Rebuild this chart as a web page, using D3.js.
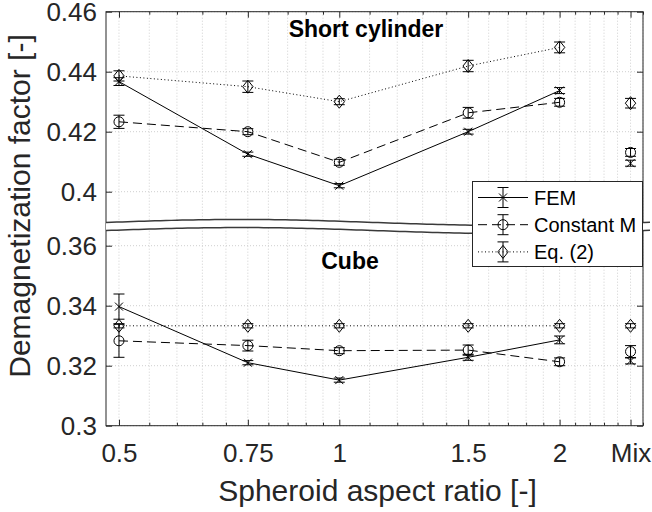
<!DOCTYPE html>
<html><head><meta charset="utf-8">
<script src="https://cdn.jsdelivr.net/npm/d3@7"></script>
<style>
body{margin:0;background:#fff}
text{font-family:"Liberation Sans",Arial,Helvetica,sans-serif}
</style>
</head><body>
<svg id="c" width="652" height="512"></svg>
<script>
// ---------- data ----------
const categories = ["0.5","0.75","1","1.5","2","Mix"];
const xValues = [0.5, 0.75, 1, 1.5, 2, 2.5];
const xMinorTicks = [0.55,0.6,0.65,0.7,0.8,0.85,0.9,0.95,1.1,1.2,1.3,1.4,1.6,1.7,1.8,1.9,2.1,2.2,2.3,2.4,2.6];

// Short cylinder (upper panel)
const cylFEM      = [0.4367, 0.4125, 0.4020, 0.4200, 0.4337, 0.4095];
const cylFEMErr   = [0.0013, 0.0007, 0.0007, 0.0008, 0.0010, 0.0010];
const cylConst    = [0.4233, 0.4200, 0.4098, 0.4263, 0.4298, 0.4131];
const cylConstErr = [0.0022, 0.0010, 0.0010, 0.0018, 0.0013, 0.0013];
const cylEq       = [0.4386, 0.4350, 0.4300, 0.4419, 0.4481, 0.4295];
const cylEqErr    = [0.0017, 0.0019, 0.0010, 0.0019, 0.0018, 0.0016];

// Cube (lower panel)
const cubeFEM      = [0.3397, 0.3210, 0.3152, 0.3228, 0.3286, 0.3216];
const cubeFEMErr   = [0.0042, 0.0007, 0.0007, 0.0010, 0.0013, 0.0010];
const cubeConst    = [0.3283, 0.3267, 0.3250, 0.3252, 0.3213, 0.3247];
const cubeConstErr = [0.0055, 0.0018, 0.0010, 0.0017, 0.0013, 0.0020];
const cubeEq       = [0.3333, 0.3333, 0.3333, 0.3333, 0.3333, 0.3333];
const cubeEqErr    = [0.0007, 0.0007, 0.0007, 0.0007, 0.0007, 0.0007];

const yTicksLower = [0.30, 0.32, 0.34, 0.36];
const yTicksUpper = [0.40, 0.42, 0.44, 0.46];
const seriesNames = ["FEM", "Constant M", "Eq. (2)"];

// ---------- layout ----------
const L = 106, R = 643, T = 11.7, B = 425.7;
const gap = 0.022;          // value removed by the axis break
const breakAt = 0.37;       // values above are shifted down by gap
const svg = d3.select("#c");

const x = d3.scaleLog().domain([0.48, 2.6]).range([L, R]);
const yT = d3.scaleLinear().domain([0.30, 0.46 - gap]).range([B, T]);
const y = v => yT(v > breakAt ? v - gap : v);

const axisColor = "#262626";
const fmt = v => String(+v.toFixed(2));

// ---------- grid ----------
const grid = svg.append("g").attr("stroke", "#cfcfcf").attr("stroke-width", 1).attr("stroke-dasharray", "1,2");
xValues.concat(xMinorTicks).forEach(v => {
  grid.append("line").attr("x1", x(v)).attr("x2", x(v)).attr("y1", T).attr("y2", B);
});
yTicksLower.concat(yTicksUpper).forEach(v => {
  grid.append("line").attr("x1", L).attr("x2", R).attr("y1", y(v)).attr("y2", y(v));
});

// ---------- axes ----------
const yTickT = yTicksLower.concat(yTicksUpper.map(v => v - gap));
function styleAxis(g){
  g.selectAll("path,line").attr("stroke", axisColor);
  g.selectAll("text").attr("fill", axisColor).attr("font-size", 26);
}
svg.append("g").attr("transform", `translate(${L},0)`)
  .call(d3.axisLeft(yT).tickValues(yTickT).tickSizeInner(-6).tickSizeOuter(0).tickPadding(9)
        .tickFormat(t => fmt(t > breakAt - 0.01 ? t + gap : t)))
  .call(styleAxis).call(g => g.select(".domain").remove());
svg.append("g").attr("transform", `translate(${R},0)`)
  .call(d3.axisRight(yT).tickValues(yTickT).tickSizeInner(-6).tickSizeOuter(0).tickFormat(""))
  .call(styleAxis).call(g => g.select(".domain").remove());
svg.append("g").attr("transform", `translate(0,${B})`)
  .call(d3.axisBottom(x).tickValues(xValues).tickSizeInner(-6).tickSizeOuter(0).tickPadding(18)
        .tickFormat((d, i) => categories[i]))
  .call(styleAxis).call(g => g.select(".domain").remove());
svg.append("g").attr("transform", `translate(0,${B})`)
  .call(d3.axisBottom(x).tickValues(xMinorTicks).tickSizeInner(-3).tickSizeOuter(0).tickFormat(""))
  .call(styleAxis).call(g => g.select(".domain").remove());
svg.append("g").attr("transform", `translate(0,${T})`)
  .call(d3.axisTop(x).tickValues(xValues).tickSizeInner(-6).tickSizeOuter(0).tickFormat(""))
  .call(styleAxis).call(g => g.select(".domain").remove());
svg.append("g").attr("transform", `translate(0,${T})`)
  .call(d3.axisTop(x).tickValues(xMinorTicks).tickSizeInner(-3).tickSizeOuter(0).tickFormat(""))
  .call(styleAxis).call(g => g.select(".domain").remove());
svg.append("rect").attr("x", L).attr("y", T).attr("width", R - L).attr("height", B - T)
  .attr("fill", "none").attr("stroke", axisColor).attr("stroke-width", 1);

// ---------- axis break band ----------
const breakCenter = 0.3664, breakHalf = 0.00135, breakAmp = 0.001;
const bx = d3.range(0, 101).map(i => L + i / 100 * (650 - L));
const wave = px => breakAmp * Math.sin(2 * Math.PI * (px - L) / (R - L));
const band = d3.area().x(d => d)
  .y0(d => yT(breakCenter - breakHalf + wave(d)))
  .y1(d => yT(breakCenter + breakHalf + wave(d)));
svg.append("path").datum(bx).attr("d", band).attr("fill", "#fff");
[1, -1].forEach(s => {
  svg.append("path").datum(bx)
    .attr("d", d3.line().x(d => d).y(d => yT(breakCenter + s * breakHalf + wave(d))))
    .attr("fill", "none").attr("stroke", "#3a3a3a").attr("stroke-width", 1.5);
});

// ---------- series ----------
const markers = {
  x: "M-4,-4L4,4M-4,4L4,-4",
  o: "M5,0A5,5 0 1 1 -5,0A5,5 0 1 1 5,0Z",
  d: "M0,-6.5L5.2,0L0,6.5L-5.2,0Z"
};
const styles = [
  {dash: null, marker: "x"},
  {dash: "9,5", marker: "o"},
  {dash: "1,2.5", marker: "d"}
];
const panels = [
  [[cylFEM, cylFEMErr], [cylConst, cylConstErr], [cylEq, cylEqErr]],
  [[cubeFEM, cubeFEMErr], [cubeConst, cubeConstErr], [cubeEq, cubeEqErr]]
];
const dataG = svg.append("g");
panels.forEach(panel => {
  panel.forEach(([vals, errs], si) => {
    const st = styles[si];
    const pts = vals.map((v, i) => ({x: xValues[i], v, e: errs[i]}));
    dataG.append("path").datum(pts.slice(0, 5))
      .attr("d", d3.line().x(d => x(d.x)).y(d => y(d.v)))
      .attr("fill", "none").attr("stroke", "#000").attr("stroke-width", 1)
      .attr("stroke-dasharray", st.dash);
    pts.forEach(p => {
      const cx = x(p.x), y1 = y(p.v + p.e), y2 = y(p.v - p.e);
      dataG.append("path")
        .attr("d", `M${cx},${y1}L${cx},${y2}M${cx-5.5},${y1}L${cx+5.5},${y1}M${cx-5.5},${y2}L${cx+5.5},${y2}`)
        .attr("stroke", "#000").attr("stroke-width", 1).attr("fill", "none");
      dataG.append("path").attr("d", markers[st.marker])
        .attr("transform", `translate(${cx},${y(p.v)})`)
        .attr("fill", "none").attr("stroke", "#000").attr("stroke-width", 1);
    });
  });
});

// ---------- titles ----------
svg.append("text").attr("x", 366).attr("y", 36.5).attr("text-anchor", "middle")
  .attr("font-size", 23).attr("font-weight", "bold").attr("fill", "#000").text("Short cylinder");
svg.append("text").attr("x", 350).attr("y", 269).attr("text-anchor", "middle")
  .attr("font-size", 23).attr("font-weight", "bold").attr("fill", "#000").text("Cube");

// axis labels
svg.append("text").attr("x", (L + R) / 2 + 3).attr("y", 501).attr("text-anchor", "middle")
  .attr("font-size", 30).attr("fill", axisColor).text("Spheroid aspect ratio [-]");
svg.append("text").attr("transform", "translate(30,206) rotate(-90)").attr("text-anchor", "middle")
  .attr("font-size", 30).attr("fill", axisColor).text("Demagnetization factor [-]");

// ---------- legend ----------
const lg = svg.append("g");
lg.append("rect").attr("x", 472.5).attr("y", 181.5).attr("width", 170).attr("height", 85)
  .attr("fill", "#fff").attr("stroke", axisColor).attr("stroke-width", 1);
seriesNames.forEach((name, i) => {
  const ry = 197.5 + i * 27.2, st = styles[i];
  lg.append("line").attr("x1", 478).attr("x2", 528).attr("y1", ry).attr("y2", ry)
    .attr("stroke", "#000").attr("stroke-width", 1).attr("stroke-dasharray", st.dash);
  lg.append("path").attr("d", `M503,${ry-10}L503,${ry+10}M497.5,${ry-10}L508.5,${ry-10}M497.5,${ry+10}L508.5,${ry+10}`)
    .attr("stroke", "#000").attr("fill", "none");
  lg.append("path").attr("d", markers[st.marker]).attr("transform", `translate(503,${ry})`)
    .attr("fill", "none").attr("stroke", "#000");
  lg.append("text").attr("x", 534).attr("y", ry).attr("dy", "0.35em")
    .attr("font-size", 20).attr("fill", "#000").text(name);
});
</script>
</body></html>
